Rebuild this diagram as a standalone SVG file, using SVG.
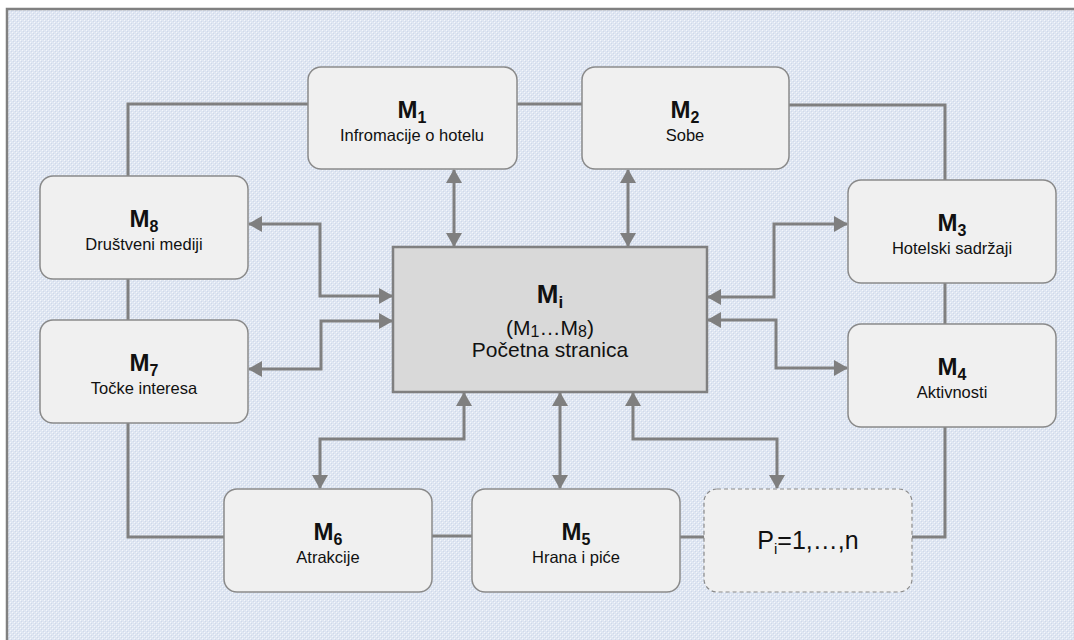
<svg xmlns="http://www.w3.org/2000/svg" width="1074" height="640" viewBox="0 0 1074 640">
<defs>
<pattern id="bg" width="4" height="4" patternUnits="userSpaceOnUse">
<rect width="4" height="4" fill="#dfe6f2"/>
<rect x="0" y="0" width="1" height="1" fill="#f4f7fb"/>
<rect x="2" y="2" width="1" height="1" fill="#f4f7fb"/>
<rect x="1" y="1" width="1" height="1" fill="#cfd9ea"/>
<rect x="3" y="3" width="1" height="1" fill="#cfd9ea"/>
</pattern>
<marker id="ah" viewBox="0 0 14 16" refX="13" refY="8" markerWidth="14" markerHeight="16" markerUnits="userSpaceOnUse" orient="auto-start-reverse">
<path d="M0,0 L14,8 L0,16 Z" fill="#7f7f7f"/>
</marker>
</defs>
<style>
.box{fill:#f0f0f0;stroke:#8a8a8a;stroke-width:1.5}
.dash{fill:#f0f0f0;stroke:#8a8a8a;stroke-width:1.2;stroke-dasharray:4 3}
.main{fill:#d9d9d9;stroke:#808080;stroke-width:2.5}
.ln{fill:none;stroke:#808080;stroke-width:3}
.ar{fill:none;stroke:#808080;stroke-width:3;marker-start:url(#ah);marker-end:url(#ah)}
.t{font-family:"Liberation Sans",Arial,sans-serif;fill:#111;text-anchor:middle}
.m{font-size:24px;font-weight:bold}
.s{font-size:16.5px}
</style>
<rect x="0" y="0" width="1074" height="640" fill="#ffffff"/>
<rect x="7" y="9" width="1080" height="640" fill="url(#bg)"/>
<path d="M7,650 L7,9 L1080,9" fill="none" stroke="#808080" stroke-width="2.5"/>

<g id="connectors">
<path class="ln" d="M308,104 L128,104 L128,176"/>
<path class="ln" d="M517,104 L582,104"/>
<path class="ln" d="M789,105 L945,105 L945,180"/>
<path class="ln" d="M945,283 L945,324"/>
<path class="ln" d="M945,427 L945,537 L912,537"/>
<path class="ln" d="M680,537 L704,537"/>
<path class="ln" d="M432,536 L472,536"/>
<path class="ln" d="M128,423 L128,537 L224,537"/>
<path class="ln" d="M128,279 L128,320"/>
<path class="ar" d="M454,170 L454,246"/>
<path class="ar" d="M628,170 L628,246"/>
<path class="ar" d="M249,224 L320,224 L320,296 L392,296"/>
<path class="ar" d="M249,369 L321,369 L321,321 L392,321"/>
<path class="ar" d="M708,297 L774,297 L774,224 L847,224"/>
<path class="ar" d="M708,320 L776,320 L776,368 L847,368"/>
<path class="ar" d="M464,393 L464,439 L320,439 L320,488"/>
<path class="ar" d="M560,393 L560,488"/>
<path class="ar" d="M633,393 L633,439 L777,439 L777,488"/>
</g>

<g id="Mi">
<rect class="main" x="393" y="247" width="314" height="145"/>
<text class="t" x="550" y="303" style="font-size:26px;font-weight:bold">M<tspan style="font-size:17px" dy="5">i</tspan></text>
<text class="t" x="550" y="335" style="font-size:21px">(M<tspan style="font-size:16px" dy="2">1</tspan><tspan dy="-2">…M</tspan><tspan style="font-size:16px" dy="2">8</tspan><tspan dy="-2">)</tspan></text>
<text class="t" x="550" y="357" style="font-size:21px">Početna stranica</text>
</g>

<g id="M1">
<rect class="box" x="308" y="67" width="209" height="102" rx="13"/>
<text class="t m" x="412" y="118">M<tspan style="font-size:16px" dy="5">1</tspan></text>
<text class="t s" x="412" y="141">Infromacije o hotelu</text>
</g>

<g id="M2">
<rect class="box" x="582" y="67" width="207" height="102" rx="13"/>
<text class="t m" x="685" y="118">M<tspan style="font-size:16px" dy="5">2</tspan></text>
<text class="t s" x="685" y="141">Sobe</text>
</g>

<g id="M3">
<rect class="box" x="848" y="180" width="208" height="103" rx="13"/>
<text class="t m" x="952" y="231">M<tspan style="font-size:16px" dy="5">3</tspan></text>
<text class="t s" x="952" y="254">Hotelski sadržaji</text>
</g>

<g id="M4">
<rect class="box" x="848" y="324" width="208" height="103" rx="13"/>
<text class="t m" x="952" y="375">M<tspan style="font-size:16px" dy="5">4</tspan></text>
<text class="t s" x="952" y="398">Aktivnosti</text>
</g>

<g id="P">
<rect class="dash" x="704" y="489" width="208" height="103" rx="13"/>
<text class="t" x="808" y="549" style="font-size:25px">P<tspan style="font-size:15px" dy="5">i</tspan><tspan dy="-5">=1,…,n</tspan></text>
</g>

<g id="M5">
<rect class="box" x="472" y="489" width="208" height="103" rx="13"/>
<text class="t m" x="576" y="540">M<tspan style="font-size:16px" dy="5">5</tspan></text>
<text class="t s" x="576" y="563">Hrana i piće</text>
</g>

<g id="M6">
<rect class="box" x="224" y="489" width="208" height="103" rx="13"/>
<text class="t m" x="328" y="540">M<tspan style="font-size:16px" dy="5">6</tspan></text>
<text class="t s" x="328" y="563">Atrakcije</text>
</g>

<g id="M7">
<rect class="box" x="40" y="320" width="208" height="103" rx="13"/>
<text class="t m" x="144" y="371">M<tspan style="font-size:16px" dy="5">7</tspan></text>
<text class="t s" x="144" y="394">Točke interesa</text>
</g>

<g id="M8">
<rect class="box" x="40" y="176" width="208" height="103" rx="13"/>
<text class="t m" x="144" y="227">M<tspan style="font-size:16px" dy="5">8</tspan></text>
<text class="t s" x="144" y="250">Društveni mediji</text>
</g>
</svg>
